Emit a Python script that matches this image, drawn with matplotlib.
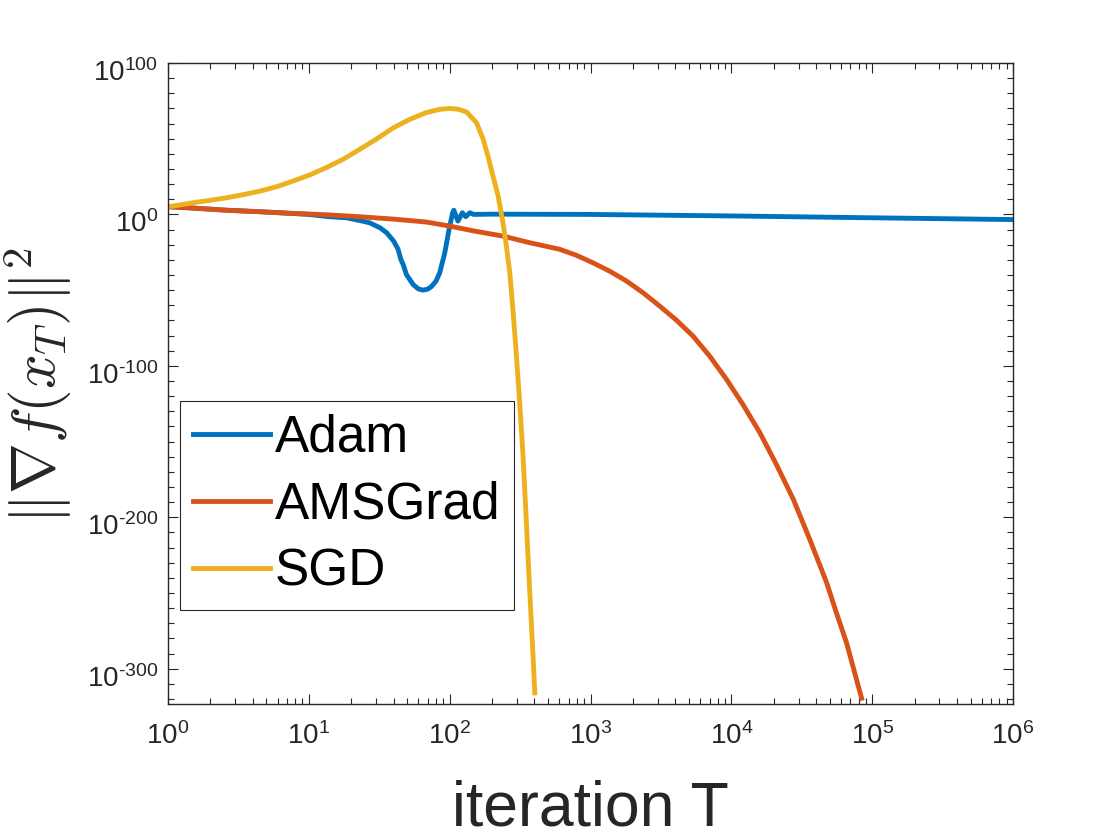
import matplotlib
matplotlib.use("Agg")
import matplotlib.pyplot as plt
import matplotlib.transforms as mtransforms
from matplotlib.ticker import FixedLocator, NullFormatter

# values
adam_x = [1, 1.5, 2.6, 4.5, 7.7, 10, 14, 18.5, 24, 27, 32, 35.6, 40, 43, 45, 46.7, 49.3,
          55, 60, 64.7, 70, 74.3, 80, 85, 92.3, 99, 105, 107, 114.5, 123, 130, 139, 148,
          200, 1000, 1e4, 1e5, 1e6]
adam_y = [1.3e5, 1.6e4, 6e2, 6e1, 4e0, 1e0, 3e-2, 6e-3, 4e-5, 3e-6, 1.6e-9, 1e-12,
          2.5e-18, 1e-23, 2e-30, 1e-33, 2e-40, 5e-47, 6e-50, 1e-50, 5e-50, 2.5e-48,
          1e-44, 3e-39, 5e-26, 1.3e-10, 1.3e1, 6e2, 4e-5, 1.3e1, 3e-2, 1.3e1, 1e0,
          1.5e0, 1e0, 1e-1, 6e-3, 4e-4]

ams_x = [1, 1.5, 2.6, 4.5, 7.7, 13.3, 23, 40, 68, 100, 150, 239, 371, 603, 795, 1043,
         1370, 1803, 2365, 3105, 4080, 5350, 7030, 9250, 12100, 15900, 20900, 27500,
         36100, 47400, 55800, 65800, 84100]
ams_y = [1.3e5, 1.6e4, 6e2, 6e1, 5e0, 6e-1, 3e-2, 8e-4, 1e-5, 2e-8, 1e-11, 5e-15,
         2e-19, 1e-23, 1e-27, 1e-32, 3e-38, 1e-44, 1.6e-52, 2.5e-61, 1.3e-70, 4e-81,
         2e-94, 1e-109, 2.5e-126, 1e-144, 6e-166, 1e-188, 1.6e-215, 1e-243, 5e-264,
         1e-283, 3e-320]

sgd_x = [1, 1.15, 1.5, 1.98, 2.6, 3.4, 4.5, 5.9, 7.7, 10.1, 13.3, 17.5, 23, 30, 40, 52,
         68, 85, 100, 115, 132, 155, 173, 187, 203, 221, 239, 252, 267, 282, 298, 315,
         332, 346, 360, 375, 391, 402]
sgd_y = [1.3e5, 8e5, 5e7, 2e9, 1e11, 1e13, 2.5e15, 2e18, 1e22, 1e26, 8e30, 2.5e36,
         1e43, 4e49, 2e57, 6e62, 1.6e67, 2.5e69, 1e70, 3e69, 4e67, 4e60, 4e49, 3e38,
         2e25, 1e12, 3e-6, 1e-20, 5e-39, 1e-64, 1.6e-94, 1e-126, 1e-160, 1e-193,
         1e-226, 1e-259, 1e-292, 1e-316]

labels = ["Adam", "AMSGrad", "SGD"]
colors = ["#0072BD", "#D95319", "#EDB120"]

x_ticks = [1e0, 1e1, 1e2, 1e3, 1e4, 1e5, 1e6]
x_ticklabels = [r"$10^{%d}$" % k for k in range(0, 7)]
y_ticks = [1e-300, 1e-200, 1e-100, 1e0, 1e100]
y_ticklabels = [r"$10^{\text{-300}}$", r"$10^{\text{-200}}$", r"$10^{\text{-100}}$",
                r"$10^{0}$", r"$10^{100}$"]

plt.rcParams["font.family"] = ["Liberation Sans", "DejaVu Sans"]
plt.rcParams["mathtext.fontset"] = "custom"
plt.rcParams["mathtext.rm"] = "Liberation Sans"
plt.rcParams["mathtext.it"] = "Liberation Sans:italic"
plt.rcParams["mathtext.bf"] = "Liberation Sans:bold"

dark = "#262626"
fig = plt.figure(figsize=(11.2, 8.4), dpi=100)
ax = fig.add_axes([0.15, 0.1619, 0.7545, 0.7631])

ax.plot(adam_x, adam_y, color=colors[0], lw=3.5, label=labels[0])
ax.plot(ams_x, ams_y, color=colors[1], lw=3.5, label=labels[1])
ax.plot(sgd_x, sgd_y, color=colors[2], lw=3.5, label=labels[2])

ax.set_xscale("log")
ax.set_yscale("log")
ax.set_xlim(1, 1e6)
ax.set_ylim(5e-324, 1e100)

ax.xaxis.set_major_locator(FixedLocator(x_ticks))
ax.set_xticklabels(x_ticklabels)
xminor = [m * 10.0 ** k for k in range(0, 6) for m in range(2, 10)]
ax.xaxis.set_minor_locator(FixedLocator(xminor))
ax.xaxis.set_minor_formatter(NullFormatter())

ax.yaxis.set_major_locator(FixedLocator(y_ticks))
ax.set_yticklabels(y_ticklabels)
yminor = [10.0 ** k for k in range(-320, 100, 10) if k % 100 != 0]
ax.yaxis.set_minor_locator(FixedLocator(yminor))
ax.yaxis.set_minor_formatter(NullFormatter())

ax.tick_params(which="both", direction="in", top=True, right=True, colors=dark,
               width=0.8)
ax.tick_params(which="major", length=7, labelsize=20)
ax.tick_params(which="minor", length=4)
ax.tick_params(axis="x", which="major", pad=13)
ax.tick_params(axis="y", which="major", pad=7)
for s in ax.spines.values():
    s.set_color(dark)
    s.set_linewidth(1.0)

# matlab puts the y labels a little below the tick
shift = mtransforms.ScaledTranslation(0, -5 / 72, fig.dpi_scale_trans)
for lab in ax.get_yticklabels():
    lab.set_transform(lab.get_transform() + shift)

ax.set_xlabel("iteration T", fontsize=45, color=dark)
ax.xaxis.set_label_coords(0.5, -0.117)
ax.xaxis.label.set_va("top")
ax.set_ylabel(r"$\|\nabla f(x_T)\|^2$", fontsize=44, color=dark, math_fontfamily="cm")
ax.yaxis.set_label_coords(-0.111, 0.497)

leg = ax.legend(loc="upper left", bbox_to_anchor=(0.0142, 0.4727), fontsize=37,
                frameon=True, fancybox=False, framealpha=1, edgecolor="#262626",
                handlelength=1.5, handletextpad=0.1, labelspacing=0.35,
                borderpad=0.25, borderaxespad=0)
leg.get_frame().set_linewidth(0.8)

fig.savefig("out.png", dpi=100)
